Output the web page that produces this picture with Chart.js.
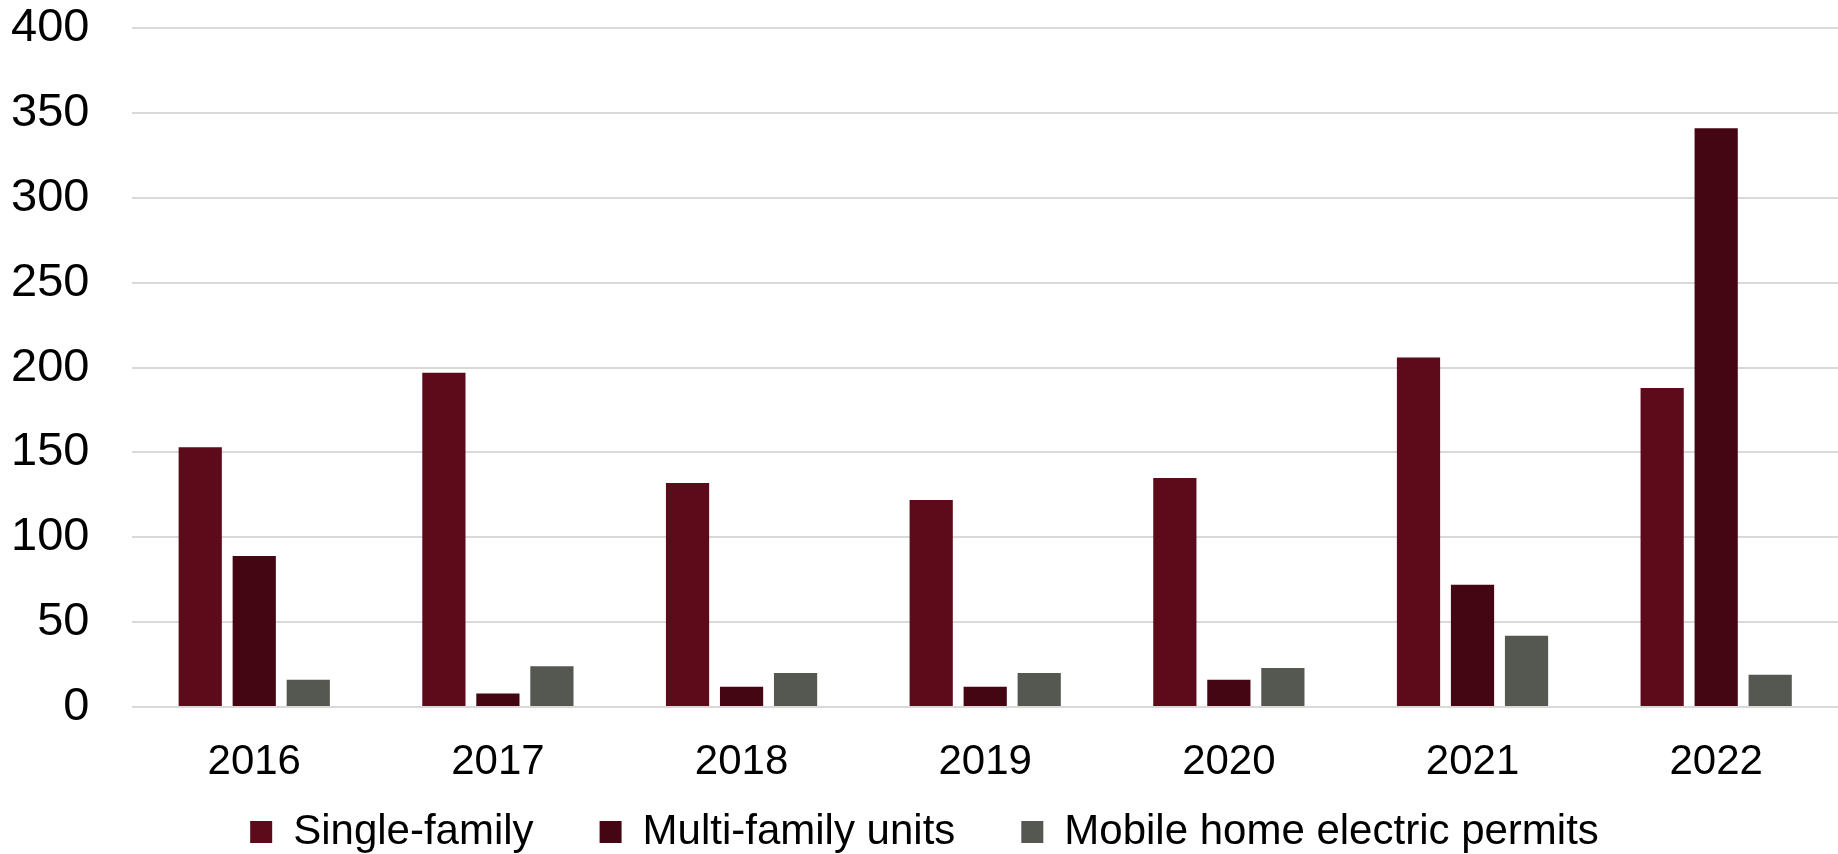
<!DOCTYPE html>
<html>
<head>
<meta charset="utf-8">
<title>Permits by year</title>
<script src="https://cdn.jsdelivr.net/npm/chart.js@4.4.1/dist/chart.umd.min.js"></script>
<style>
  html, body { margin: 0; padding: 0; background: #fff; }
  #wrap { width: 1838px; height: 854px; position: relative; }
</style>
</head>
<body>
<div id="wrap"><canvas id="permits"></canvas></div>
<script>
const years = ['2016', '2017', '2018', '2019', '2020', '2021', '2022'];
const singleFamily = [153, 197, 132, 122, 135, 206, 188];
const multiFamily = [89, 8, 12, 12, 16, 72, 341];
const mobileHome = [16, 24, 20, 20, 23, 42, 19];

Chart.defaults.font.family = '"Liberation Sans", Arial, sans-serif';
Chart.defaults.color = '#000';

const ctx = document.getElementById('permits');

new Chart(ctx, {
  type: 'bar',
  data: {
    labels: years,
    datasets: [
      { label: 'Single-family', data: singleFamily, backgroundColor: '#5d0a1b' },
      { label: 'Multi-family units', data: multiFamily, backgroundColor: '#440613' },
      { label: 'Mobile home electric permits', data: mobileHome, backgroundColor: '#555751' }
    ]
  },
  options: {
    responsive: true,
    maintainAspectRatio: false,
    animation: false,
    categoryPercentage: 0.665,
    barPercentage: 0.8,
    layout: { padding: { left: 11, right: 0, top: 0, bottom: -9 } },
    plugins: {
      tooltip: { enabled: false },
      legend: {
        position: 'bottom',
        labels: {
          boxWidth: 22,
          boxHeight: 22,
          padding: 66,
          font: { size: 42 },
          color: '#000'
        }
      }
    },
    scales: {
      x: {
        border: { display: false },
        // mirrored ticks with negative padding: labels sit below the axis, axis band stays thin
        grid: { drawOnChartArea: false, tickLength: 200, tickColor: 'rgba(0,0,0,0)' },
        ticks: { font: { size: 42 }, mirror: true, padding: -81 }
      },
      y: {
        min: 0,
        max: 400,
        border: { display: false },
        grid: { color: '#d9d9d9', lineWidth: 2, tickLength: 43, tickColor: 'rgba(0,0,0,0)' },
        ticks: { stepSize: 50, font: { size: 47 }, padding: 0 }
      }
    }
  }
});
</script>
</body>
</html>
